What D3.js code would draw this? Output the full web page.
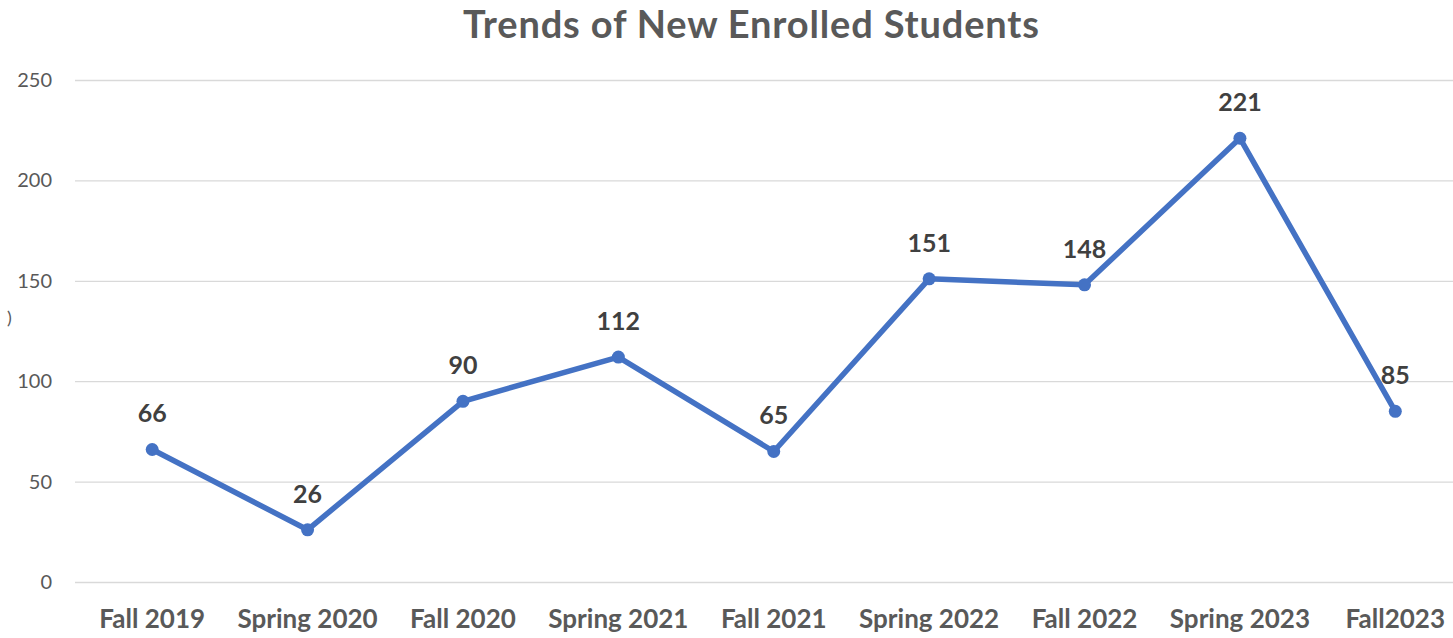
<!DOCTYPE html>
<html>
<head>
<meta charset="utf-8">
<script src="https://cdn.jsdelivr.net/npm/d3@7"></script>
<style>
  body { margin: 0; background: #fff; }
  text { font-family: Lato, "Open Sans", sans-serif; }
</style>
</head>
<body>
<div id="chart"></div>
<script>
const terms = ["Fall 2019", "Spring 2020", "Fall 2020", "Spring 2021", "Fall 2021",
  "Spring 2022", "Fall 2022", "Spring 2023", "Fall2023"]
const enrolled = [66, 26, 90, 112, 65, 151, 148, 221, 85]
const yTicks = [0, 50, 100, 150, 200, 250]

const W = 1453, H = 638
let margin = {top: 80, left: 75, bottom: 56}

let svg = d3.select("#chart").append("svg")
  .attr("width", W).attr("height", H)

// x is wider than the window, the last band is cut like the picture
let scX = d3.scaleBand().domain(terms).range([74.5, 1473]).padding(0)
let scY = d3.scaleLinear().domain([0, 250]).range([582, 80])

// title
svg.append("text")
  .attr("x", 751).attr("y", 38)
  .attr("text-anchor", "middle")
  .attr("font-size", 38).attr("font-weight", 700)
  .attr("fill", "#595959")
  .attr("textLength", 576).attr("lengthAdjust", "spacing")
  .text("Trends of New Enrolled Students")

// grid
const yGrid = d3.axisLeft(scY).tickValues(yTicks).tickSize(-(W - margin.left)).tickFormat("")
let g = svg.append("g").attr("transform", `translate(${margin.left},0)`).call(yGrid)
g.select(".domain").remove()
g.selectAll("line").attr("stroke", "#d9d9d9").attr("stroke-width", 1.3)

// y labels
svg.append("g").selectAll("text")
  .data(yTicks).enter().append("text")
  .attr("x", 52).attr("y", d => scY(d) + 7)
  .attr("text-anchor", "end")
  .attr("font-size", 20).attr("fill", "#595959")
  .text(d => d)

// cut off axis title piece
svg.append("text").attr("x", 7).attr("y", 324)
  .attr("font-size", 18).attr("fill", "#595959").text(")")

// x labels
svg.append("g").selectAll("text")
  .data(terms).enter().append("text")
  .attr("x", d => scX(d) + scX.bandwidth() / 2)
  .attr("y", 628)
  .attr("text-anchor", "middle")
  .attr("font-size", 26).attr("font-weight", 700).attr("fill", "#595959")
  .text(d => d)

let cx = (d, i) => scX(terms[i]) + scX.bandwidth() / 2

let makeLine = d3.line().x((d, i) => cx(d, i)).y(d => scY(d))
svg.append("path")
  .attr("d", makeLine(enrolled))
  .attr("fill", "none")
  .attr("stroke", "#4472c4")
  .attr("stroke-width", 5.5)
  .attr("stroke-linejoin", "round")

svg.append("g").selectAll("circle")
  .data(enrolled).enter().append("circle")
  .attr("cx", cx).attr("cy", d => scY(d))
  .attr("r", 6.5).attr("fill", "#4472c4")

// value labels
svg.append("g").selectAll("text")
  .data(enrolled).enter().append("text")
  .attr("x", (d, i) => cx(d, i))
  .attr("y", d => scY(d) - 27)
  .attr("text-anchor", "middle")
  .attr("font-size", 25).attr("font-weight", 700).attr("fill", "#404040")
  .text(d => d)
</script>
</body>
</html>
